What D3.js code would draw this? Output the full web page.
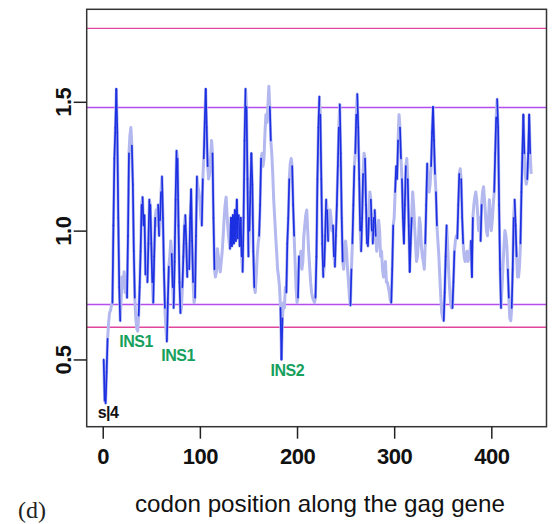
<!DOCTYPE html>
<html>
<head>
<meta charset="utf-8">
<script src="https://cdn.jsdelivr.net/npm/d3@7"></script>
<style>
  body { margin: 0; background: #fff; }
  text { font-family: "Liberation Sans", Arial, sans-serif; }
</style>
</head>
<body>
<div id="chart"></div>
<script>
// codon position i+1 -> rate ratio
const ratio = [
  0.50,0.34,0.33,0.45,0.58,0.64,0.68,0.69,0.71,0.72, 1.02,1.28,1.40,1.55,1.38,1.05,0.78,0.65,0.74,0.82,
  0.78,0.84,0.76,0.80,0.74,0.98,1.30,1.37,1.40,1.33, 1.18,0.92,0.74,0.66,0.62,0.61,0.67,0.78,0.92,1.10,
  1.13,1.02,1.06,0.83,0.86,0.80,0.95,1.12,1.10,0.95, 0.80,0.72,0.90,1.05,1.08,1.02,1.10,0.98,1.04,1.15,
  1.21,1.05,0.85,0.70,0.62,0.57,0.72,0.86,0.90,0.96, 0.91,0.78,0.70,0.88,1.12,1.31,1.28,1.02,0.80,0.68,
  0.70,0.78,0.90,1.02,1.06,0.95,0.82,0.90,0.85,1.05, 1.16,0.96,0.80,0.72,0.74,0.98,1.21,1.17,1.15,1.12,
  1.05,1.02,1.20,1.28,1.42,1.55,1.40,1.25,1.20,1.22, 1.28,1.35,1.30,1.05,0.85,0.82,0.84,0.93,0.90,0.86,
  0.84,0.88,0.92,0.98,1.05,1.10,1.13,1.06,1.00,0.96, 0.93,1.05,0.94,1.06,0.95,1.08,0.96,1.12,0.97,1.06,
  0.94,1.05,0.90,0.84,1.05,1.35,1.55,1.48,1.20,0.90, 1.00,1.15,1.30,1.18,0.92,0.78,0.76,0.82,0.90,0.95,
  0.98,1.10,1.28,1.30,1.25,1.28,1.38,1.45,1.42,1.48, 1.56,1.48,1.35,1.30,1.22,1.12,1.05,0.98,0.92,0.85,
  0.82,0.78,0.70,0.50,0.66,0.72,0.70,0.78,0.76,0.95, 1.05,1.20,1.26,1.28,1.25,1.10,0.98,0.88,0.78,0.72,
  0.74,0.90,0.88,0.92,0.85,0.88,0.98,1.02,1.06,1.08, 1.00,0.92,0.86,0.80,0.76,0.74,0.73,0.72,0.74,0.90,
  1.20,1.40,1.52,1.45,1.20,0.95,0.82,0.86,0.98,1.12, 1.08,0.96,1.02,1.08,1.05,1.00,1.02,0.90,0.86,0.98,
  1.10,1.25,1.40,1.49,1.30,1.05,0.88,0.85,0.92,0.96, 0.92,0.85,0.80,0.74,0.71,0.85,0.95,1.10,1.25,1.30,
  1.45,1.53,1.40,1.20,1.00,0.92,1.05,1.22,1.30,1.28, 1.10,0.95,0.94,1.05,1.15,1.12,1.00,0.95,1.05,1.08,
  0.98,0.92,0.96,1.04,1.00,0.90,0.92,0.85,0.82,0.84, 0.88,0.80,0.80,0.78,0.76,0.73,0.72,0.85,1.02,1.05,
  1.15,1.25,1.20,1.35,1.45,1.40,1.28,1.20,1.05,0.95, 1.10,1.25,1.28,1.20,1.02,0.84,0.95,1.05,1.15,1.10,
  1.02,0.95,0.88,0.90,0.96,1.05,1.02,0.94,0.90,0.88, 0.85,0.95,1.10,1.26,1.20,1.15,1.18,1.25,1.38,1.48,
  1.35,1.22,1.15,1.02,0.96,0.90,0.82,0.74,0.68,0.66, 0.65,0.76,0.90,1.02,0.95,0.85,0.78,0.72,0.70,0.70,
  0.80,0.92,0.96,0.98,0.97,1.10,1.22,1.24,1.20,1.05, 0.95,0.90,0.88,0.90,0.92,0.88,0.90,0.92,0.96,0.82,
  1.05,1.10,1.13,1.15,1.12,1.06,1.00,1.05,0.96,1.10, 1.15,1.17,1.12,1.06,1.00,0.98,1.04,1.12,1.06,1.00,
  1.04,1.10,1.15,1.30,1.44,1.51,1.40,1.10,0.85,0.70, 0.78,0.86,0.94,1.00,0.98,0.94,0.85,0.74,0.66,0.65,
  0.70,0.85,1.05,1.12,1.02,0.90,0.82,0.82,0.86,0.95, 1.15,1.30,1.45,1.30,1.22,1.18,1.20,1.30,1.45,1.30,
  1.22
];

const xTicks = [0, 100, 200, 300, 400];
const yTicks = [0.5, 1.0, 1.5];
// horizontal reference levels: outer (pink) and inner (purple)
const refLevels = [1.785, 1.478, 0.713, 0.625];
const refKinds = ["outer", "inner", "inner", "outer"];

const notes = [
  {text: "INS1", codon: 34.3, value: 0.572, color: "#17a05d"},
  {text: "INS1", codon: 77.5, value: 0.515, color: "#17a05d"},
  {text: "INS2", codon: 190, value: 0.459, color: "#17a05d"},
  {text: "s|4", codon: 5.5, value: 0.296, color: "#111"}
];

const width = 553, height = 524;
const plotL = 86.7, plotR = 546.5, plotT = 9.3, plotB = 426.7;

const x = d3.scaleLinear().domain([-16.5, 456.8]).range([plotL, plotR]);
const y = d3.scaleLinear().domain([0.239, 1.859]).range([plotB, plotT]);

const svg = d3.select("#chart").append("svg")
    .attr("width", width)
    .attr("height", height);

// reference lines
svg.append("g")
  .selectAll("line")
  .data(refLevels)
  .join("line")
    .attr("x1", plotL).attr("x2", plotR)
    .attr("y1", d => y(d)).attr("y2", d => y(d))
    .attr("stroke", (d, i) => refKinds[i] == "outer" ? "#e0479c" : "#b24ef0")
    .attr("stroke-width", 1.4);

const pts = ratio.map((v, i) => [i + 1, v]);
const line = d3.line().x(d => x(d[0])).y(d => y(d[1]));

// light under-stroke for the whole series
svg.append("path")
    .datum(pts)
    .attr("fill", "none")
    .attr("stroke", "#b3b8ef")
    .attr("stroke-width", 3)
    .attr("stroke-linejoin", "round")
    .attr("d", line);

// steep steps come out dark blue
const segs = d3.pairs(pts).filter(([a, b]) => Math.abs(b[1] - a[1]) > 0.1);
svg.append("g")
  .selectAll("path")
  .data(segs)
  .join("path")
    .attr("fill", "none")
    .attr("stroke", "#1c30e2")
    .attr("stroke-width", 1.7)
    .attr("stroke-linecap", "round")
    .attr("d", d => line(d));

// box
svg.append("rect")
    .attr("x", plotL).attr("y", plotT)
    .attr("width", plotR - plotL).attr("height", plotB - plotT)
    .attr("fill", "none")
    .attr("stroke", "#333")
    .attr("stroke-width", 1.5);

const xAxis = svg.append("g")
    .attr("transform", `translate(0,${plotB})`)
    .call(d3.axisBottom(x).tickValues(xTicks).tickSize(12).tickPadding(10));
xAxis.select(".domain").remove();

const yAxis = svg.append("g")
    .attr("transform", `translate(${plotL},0)`)
    .call(d3.axisLeft(y).tickValues(yTicks).tickSize(13).tickFormat(d3.format(".1f")));
yAxis.select(".domain").remove();
yAxis.selectAll("text")
    .attr("x", null).attr("dy", null)
    .attr("text-anchor", "middle")
    .attr("transform", "translate(-16,0) rotate(-90)");

svg.selectAll(".tick line").attr("stroke", "#222").attr("stroke-width", 1.5);
svg.selectAll(".tick text")
    .attr("fill", "#111")
    .style("font-size", "22px")
    .style("font-weight", "bold")
    .style("letter-spacing", "-0.5px");

svg.append("g")
  .selectAll("text")
  .data(notes)
  .join("text")
    .attr("x", d => x(d.codon))
    .attr("y", d => y(d.value))
    .attr("dy", "0.35em")
    .attr("text-anchor", "middle")
    .attr("fill", d => d.color)
    .style("font-size", "16px")
    .style("font-weight", "bold")
    .style("letter-spacing", "-0.5px")
    .text(d => d.text);

svg.append("text")
    .attr("x", 320)
    .attr("y", 512)
    .attr("text-anchor", "middle")
    .attr("textLength", 370)
    .attr("lengthAdjust", "spacingAndGlyphs")
    .attr("fill", "#111")
    .style("font-size", "24px")
    .text("codon position along the gag gene");

svg.append("text")
    .attr("x", 18)
    .attr("y", 518)
    .attr("fill", "#222")
    .style("font-family", "'Liberation Serif', 'DejaVu Serif', serif")
    .style("font-size", "24px")
    .text("(d)");
</script>
</body>
</html>
